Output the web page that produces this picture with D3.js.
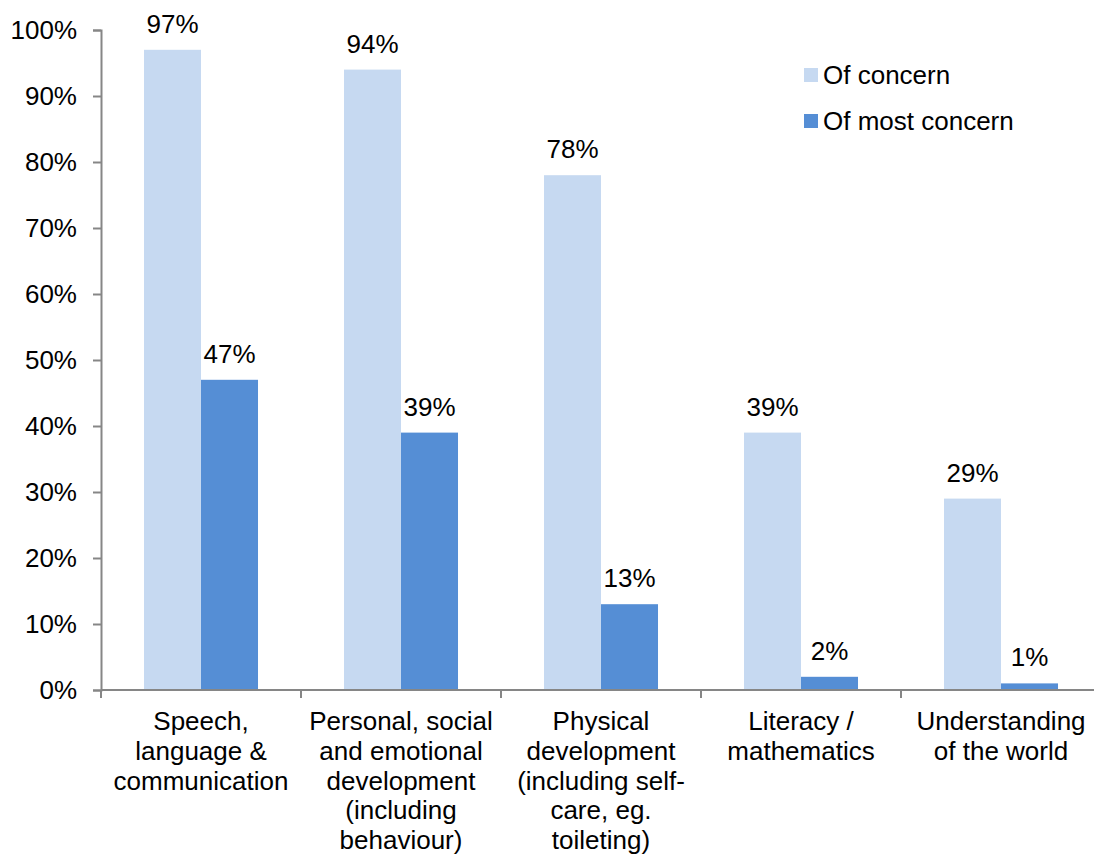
<!DOCTYPE html>
<html>
<head>
<meta charset="utf-8">
<script src="https://cdn.jsdelivr.net/npm/d3@7/dist/d3.min.js"></script>
<style>
  html, body { margin: 0; padding: 0; background: #fff; }
  svg { display: block; font-family: "Liberation Sans", Arial, sans-serif; }
</style>
</head>
<body>
<svg id="chart" width="1094" height="858"></svg>
<script>
// Areas of development flagged by respondents
const categories = [
  ["Speech,", "language &", "communication"],
  ["Personal, social", "and emotional", "development", "(including", "behaviour)"],
  ["Physical", "development", "(including self-", "care, eg.", "toileting)"],
  ["Literacy /", "mathematics"],
  ["Understanding", "of the world"]
];
const seriesNames = ["Of concern", "Of most concern"];
const ofConcern = [97, 94, 78, 39, 29];
const ofMostConcern = [47, 39, 13, 2, 1];
const yTicks = [0, 10, 20, 30, 40, 50, 60, 70, 80, 90, 100];
const colors = ["#c6d9f1", "#558ed5"];

const svg = d3.select("#chart");
const fontSize = 26;
const axisColor = "#868686";

const plot = { left: 101, right: 1101, top: 30, bottom: 690 };

const x = d3.scaleBand()
  .domain(d3.range(categories.length))
  .range([plot.left, plot.right])
  .paddingInner(0)
  .paddingOuter(0);

const xInner = d3.scaleBand()
  .domain([0, 1])
  .range([0, x.bandwidth()])
  .paddingInner(0)
  .paddingOuter(0.754);

const y = d3.scaleLinear().domain([0, 100]).range([plot.bottom, plot.top]);

const series = [ofConcern, ofMostConcern];

// Bars
series.forEach((vals, si) => {
  svg.append("g")
    .selectAll("rect")
    .data(vals)
    .join("rect")
    .attr("x", (d, i) => x(i) + xInner(si))
    .attr("y", d => y(d))
    .attr("width", xInner.bandwidth())
    .attr("height", d => y(0) - y(d))
    .attr("fill", colors[si]);

  // Value labels
  svg.append("g")
    .selectAll("text")
    .data(vals)
    .join("text")
    .attr("x", (d, i) => x(i) + xInner(si) + xInner.bandwidth() / 2)
    .attr("y", d => y(d) - 17)
    .attr("text-anchor", "middle")
    .attr("font-size", fontSize)
    .attr("fill", "#000")
    .text(d => d + "%");
});

// Y axis
const yAxis = d3.axisLeft(y)
  .tickValues(yTicks)
  .tickFormat(d => d + "%")
  .tickSize(8)
  .tickPadding(16);
const gy = svg.append("g")
  .attr("transform", `translate(${plot.left},0)`)
  .call(yAxis);
gy.select(".domain").attr("stroke", axisColor).attr("stroke-width", 2);
gy.selectAll(".tick line").attr("stroke", axisColor).attr("stroke-width", 2);
gy.selectAll(".tick text")
  .attr("font-size", fontSize)
  .attr("font-family", "Liberation Sans, Arial, sans-serif")
  .attr("fill", "#000");

// X axis with boundary ticks between categories
const gx = svg.append("g").attr("transform", `translate(0,${plot.bottom})`);
gx.append("line")
  .attr("x1", plot.left).attr("x2", plot.right)
  .attr("stroke", axisColor).attr("stroke-width", 2);
const boundaries = d3.range(categories.length + 1).map(i => plot.left + i * x.step());
gx.selectAll("line.tick")
  .data(boundaries)
  .join("line")
  .attr("class", "tick")
  .attr("x1", d => d).attr("x2", d => d)
  .attr("y1", 0).attr("y2", 8)
  .attr("stroke", axisColor).attr("stroke-width", 2);

// Category labels (multi-line)
const lineH = 29.8;
categories.forEach((lines, i) => {
  const t = svg.append("text")
    .attr("x", x(i) + x.bandwidth() / 2)
    .attr("y", plot.bottom + 40)
    .attr("text-anchor", "middle")
    .attr("font-size", fontSize)
    .attr("fill", "#000");
  lines.forEach((ln, j) => {
    t.append("tspan")
      .attr("x", x(i) + x.bandwidth() / 2)
      .attr("dy", j === 0 ? 0 : lineH)
      .text(ln);
  });
});

// Legend
const legend = svg.append("g").attr("transform", "translate(804,68)");
seriesNames.forEach((name, i) => {
  const g = legend.append("g").attr("transform", `translate(0,${i * 46})`);
  g.append("rect").attr("width", 14).attr("height", 14).attr("fill", colors[i]);
  g.append("text")
    .attr("x", 19)
    .attr("y", 7)
    .attr("dy", "0.35em")
    .attr("font-size", fontSize)
    .attr("fill", "#000")
    .text(name);
});
</script>
</body>
</html>
